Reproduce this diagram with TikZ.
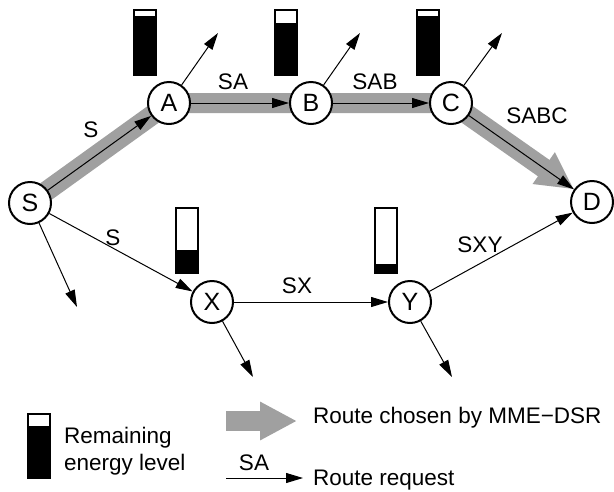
\documentclass[tikz,border=0pt]{standalone}
\usepackage{fontspec}
\setmainfont{Liberation Sans}
\usetikzlibrary{arrows.meta}
\begin{document}
\begin{tikzpicture}[x=1pt,y=-1pt,
  every node/.style={font=\fontsize{22.5}{27}\selectfont},
  nd/.style={circle,draw=black,line width=2pt,fill=white,minimum size=42pt,inner sep=0pt,
     font=\fontsize{25}{27}\selectfont},
  band/.style={draw={rgb,255:red,160;green,160;blue,160},line width=20pt,
     -{Triangle[length=37pt,width=36pt]}},
  req/.style={draw=black,line width=1pt,-{Triangle[length=17pt,width=10pt]}},
  lbl/.style={inner sep=0pt}]
\useasboundingbox (0,0) rectangle (614,491);
% nodes positions
\coordinate (Sc) at (30,203);
\coordinate (Ac) at (169,103);
\coordinate (Bc) at (311,103);
\coordinate (Cc) at (451,103);
% gray band route
\node[nd,draw=none,fill=none] (D0) at (592,202) {};
\draw[band,line join=miter] (Sc) -- (Ac) -- (Bc) -- (Cc) -- (D0);
% nodes
\node[nd] (S) at (Sc) {S};
\node[nd] (A) at (Ac) {A};
\node[nd] (B) at (Bc) {B};
\node[nd] (C) at (Cc) {C};
\node[nd] (D) at (592,202) {D};
\node[nd] (X) at (212,302) {X};
\node[nd] (Y) at (410,302) {Y};
% free ends
\coordinate (a1) at (218,33);
\coordinate (b1) at (360,33);
\coordinate (c1) at (502,33);
\coordinate (s1) at (77,307);
\coordinate (x1) at (253,377);
\coordinate (y1) at (452,377);
% route requests
\draw[req] (S) -- (A);
\draw[req] (A) -- (B);
\draw[req] (B) -- (C);
\draw[req] (C) -- (D);
\draw[req] (S) -- (X);
\draw[req] (X) -- (Y);
\draw[req] (Y) -- (D);
\draw[req] (A) -- (a1);
\draw[req] (B) -- (b1);
\draw[req] (C) -- (c1);
\draw[req] (S) -- (s1);
\draw[req] (X) -- (x1);
\draw[req] (Y) -- (y1);
% labels
\node[lbl] (lS1) at (91,130) {S};
\node[lbl] (lSA) at (233,82) {SA};
\node[lbl] (lSAB) at (375,82) {SAB};
\node[lbl] (lSABC) at (537,116) {SABC};
\node[lbl] (lS2) at (113,238) {S};
\node[lbl] (lSX) at (297,286) {SX};
\node[lbl] (lSXY) at (480,245) {SXY};
% energy bars
\newcommand{\ebar}[4]{%
  \filldraw[fill=white,draw=black,line width=1.2pt] (#1,#2) rectangle (#1+22,#3);
  \filldraw[fill=black,draw=black,line width=1.2pt] (#1,#4) rectangle (#1+22,#3);}
\ebar{134}{10}{75}{17}
\ebar{275}{10}{75}{24}
\ebar{417}{10}{75}{17}
\ebar{176}{208}{273}{251}
\ebar{375}{208}{273}{265}
\ebar{28}{414}{478}{427}
% legend
\node[lbl,anchor=base west] (lRem) at (64,443) {Remaining};
\node[lbl,anchor=base west] (lEn) at (64,470) {energy level};
\coordinate (g0) at (226,421);
\coordinate (g1) at (297,421);
\draw[band] (g0) -- (g1);
\node[lbl,anchor=base west] (lRC) at (313,423) {Route chosen by MME−DSR};
\coordinate (r0) at (226,478);
\coordinate (r1) at (303,478);
\draw[req] (r0) -- (r1);
\node[lbl] (lSAleg) at (254,463) {SA};
\node[lbl,anchor=base west] (lRR) at (313,485) {Route request};
\end{tikzpicture}
\end{document}
